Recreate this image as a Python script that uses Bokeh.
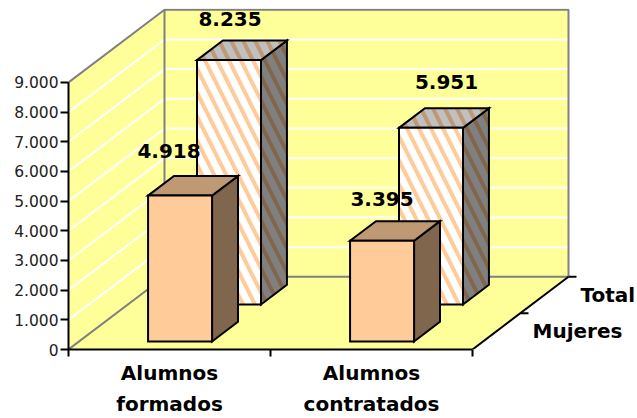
from bokeh.plotting import figure
from bokeh.models import Range1d, FixedTicker
from bokeh.core.properties import value
from bokeh.embed import file_html
from bokeh.resources import INLINE

categories = ["Alumnos\nformados", "Alumnos\ncontratados"]
series_names = ["Mujeres", "Total"]
mujeres = [4918, 3395]
total = [8235, 5951]
value_labels_mujeres = ["4.918", "3.395"]
value_labels_total = ["8.235", "5.951"]
y_ticks = [0, 1000, 2000, 3000, 4000, 5000, 6000, 7000, 8000, 9000]
y_tick_labels = ["0", "1.000", "2.000", "3.000", "4.000", "5.000", "6.000", "7.000", "8.000", "9.000"]

# projection of the 3D box, in data units
PX_X = 202.0
PX_Y = 29.67 / 1000
DX = 96 / PX_X
DY = 72.7 / PX_Y
HALF_W = 32 / PX_X
BAR_D = 0.27
D_FRONT = {"Mujeres": 0.11, "Total": 0.62}
YMAX = 9000


def pr(x, v, d=0.0):
    return x + d * DX, v + d * DY


def poly(points):
    xs, ys = zip(*[pr(*q) for q in points])
    return list(xs), list(ys)


p = figure(width=637, height=418, output_backend="svg", toolbar_location=None,
           x_range=Range1d(0, (637 - 68) / PX_X), y_range=Range1d(0, (349 - 8) / PX_Y),
           min_border_left=68, min_border_right=0, min_border_top=8, min_border_bottom=69,
           background_fill_color="white", border_fill_color="white", outline_line_color=None)
p.grid.visible = False

WALL = "#FFFF99"
GRAY = "#808080"

# walls and floor
wx, wy = poly([(0, 0, 1), (2, 0, 1), (2, YMAX, 1), (0, YMAX, 1)])
p.patch(wx, wy, fill_color=WALL, line_color=None)
lx, ly = poly([(0, 0, 0), (0, 0, 1), (0, YMAX, 1), (0, YMAX, 0)])
p.patch(lx, ly, fill_color=WALL, line_color=None)
fx, fy = poly([(0, 0, 0), (2, 0, 0), (2, 0, 1), (0, 0, 1)])
p.patch(fx, fy, fill_color=WALL, line_color=None)

# gridlines
gx, gy = [], []
for t in y_ticks[1:-1]:
    a, b = poly([(0, t, 0), (0, t, 1), (2, t, 1)])
    gx.append(a)
    gy.append(b)
p.multi_line(gx, gy, line_color="white", line_width=2)

# wall edges
for pts in ([(0, 0, 0), (0, 0, 1), (2, 0, 1)],
            [(0, YMAX, 0), (0, YMAX, 1), (2, YMAX, 1), (2, 0, 1)],
            [(0, 0, 1), (0, YMAX, 1)]):
    a, b = poly(pts)
    p.line(a, b, line_color=GRAY, line_width=2)

# depth axis
a, b = poly([(2, 0, 0), (2, 0, 1)])
p.line(a, b, line_color="black", line_width=2)
TICK = 8 / PX_X
for d in (0.5, 1):
    a, b = poly([(2, 0, d), (2 + TICK, 0, d)])
    p.line(a, b, line_color="black", line_width=2)


def bar(cat, v, d0, front, top, side, stripe_front=None, stripe_top=None, stripe_side=None):
    x0 = cat + 0.5 - HALF_W
    x1 = cat + 0.5 + HALF_W
    d1 = d0 + BAR_D
    faces = [
        ([(x1, 0, d0), (x1, 0, d1), (x1, v, d1), (x1, v, d0)], side, stripe_side),
        ([(x0, v, d0), (x1, v, d0), (x1, v, d1), (x0, v, d1)], top, stripe_top),
        ([(x0, 0, d0), (x1, 0, d0), (x1, v, d0), (x0, v, d0)], front, stripe_front),
    ]
    for pts, col, stripe in faces:
        a, b = poly(pts)
        kw = {}
        if stripe:
            kw = dict(hatch_pattern="left_diagonal_line", hatch_color=stripe,
                      hatch_scale=24, hatch_weight=4)
        p.patch(a, b, fill_color=col, line_color="black", line_width=2, line_join="miter", **kw)


for i in range(len(categories)):
    bar(i, total[i], D_FRONT["Total"], "#FFFFFF", "#C0C0C0", "#808080",
        "#FFCC99", "#BF9973", "#80664D")
for i in range(len(categories)):
    bar(i, mujeres[i], D_FRONT["Mujeres"], "#FFCC99", "#BF9973", "#80664D")

# value labels
FONT = value("DejaVu Sans")
for vals, labs, d0, xo, yo in (
    (total, value_labels_total, D_FRONT["Total"], [1, 15.5], [-41.5, -46]),
    (mujeres, value_labels_mujeres, D_FRONT["Mujeres"], [-11, 0], [-44.5, -42]),
):
    xs = [pr(i + 0.5, vals[i], d0)[0] for i in range(len(vals))]
    ys = [pr(i + 0.5, vals[i], d0)[1] for i in range(len(vals))]
    p.text(xs, ys, text=labs, x_offset=xo, y_offset=yo, text_font=FONT,
           text_font_size="20px", text_font_style="bold", text_color="black",
           text_align="center", text_baseline="middle")

# series names on the depth axis
sx = [pr(2, 0, d)[0] for d in (0.25, 0.75)]
sy = [pr(2, 0, d)[1] for d in (0.25, 0.75)]
p.text(sx, sy, text=series_names, x_offset=36, text_font=FONT, text_font_size="20px",
       text_font_style="bold", text_color="black", text_align="left", text_baseline="middle")

# axes
ya = p.yaxis[0]
ya.ticker = FixedTicker(ticks=y_ticks)
ya.major_label_overrides = {t: s for t, s in zip(y_ticks, y_tick_labels)}
ya.bounds = (0, YMAX)
ya.axis_line_color = "black"
ya.axis_line_width = 2
ya.major_tick_line_width = 2
ya.major_tick_out = 8
ya.major_tick_in = 0
ya.minor_tick_out = 0
ya.minor_tick_in = 0
ya.major_label_standoff = 2
ya.major_label_text_font = "DejaVu Sans"
ya.major_label_text_font_size = "15.5px"
ya.major_label_text_color = "#222222"

xa = p.xaxis[0]
centers = [i + 0.5 for i in range(len(categories))]
xa.ticker = FixedTicker(ticks=centers, minor_ticks=[0, 1, 2])
xa.major_label_overrides = {c: s for c, s in zip(centers, categories)}
xa.bounds = (0, 2)
xa.axis_line_color = "black"
xa.axis_line_width = 2
xa.major_tick_out = 0
xa.major_tick_in = 0
xa.minor_tick_out = 7
xa.minor_tick_in = 0
xa.minor_tick_line_width = 2
xa.minor_tick_line_color = "black"
xa.major_label_standoff = 4
xa.major_label_text_font = "DejaVu Sans"
xa.major_label_text_font_size = "20px"
xa.major_label_text_font_style = "bold"
xa.major_label_text_color = "black"
xa.major_label_text_line_height = 1.3

open("out.html", "w").write(file_html(p, INLINE))
